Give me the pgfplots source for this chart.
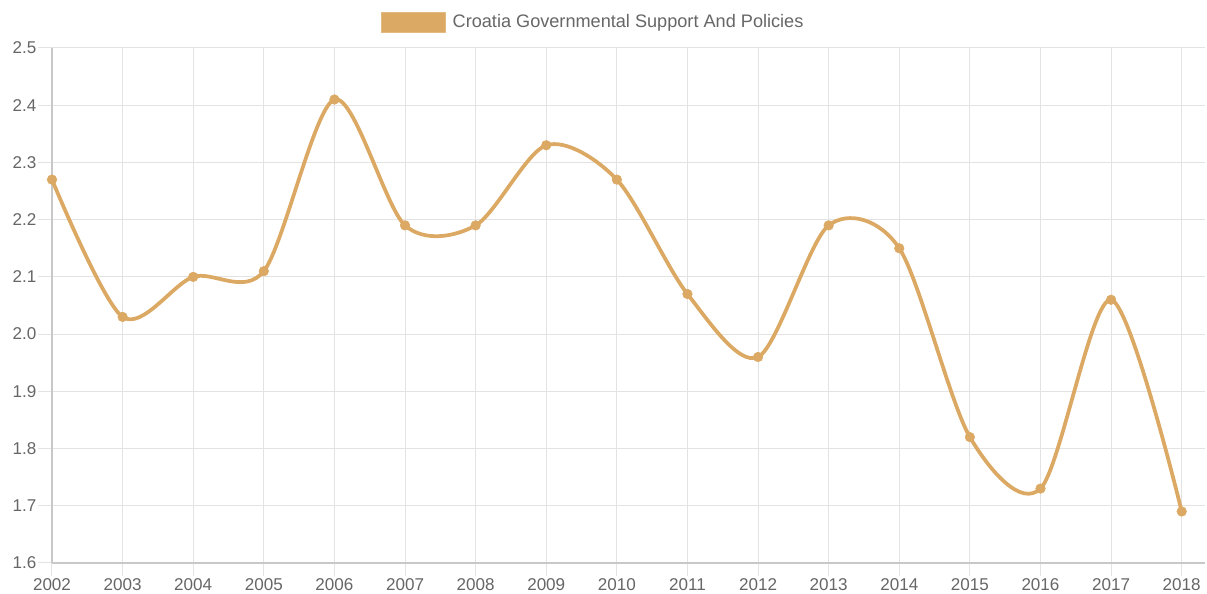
\documentclass[border=0pt]{standalone}
\usepackage{pgfplots}
\pgfplotsset{compat=1.18}
\usepackage{fontspec}
\setmainfont{Liberation Sans}
\definecolor{lc}{HTML}{DBA963}
\definecolor{gridc}{HTML}{E3E3E3}
\definecolor{axc}{HTML}{C8C8C8}
\definecolor{txt}{HTML}{666666}
\begin{document}
\begin{tikzpicture}
\begin{axis}[
  scale only axis,
  width=864.75pt, height=386.25pt,
  xmin=2002, xmax=2018.33,
  ymin=1.6, ymax=2.5,
  xtick={2002,2003,...,2018},
  ytick={1.6,1.7,...,2.5},
  axis x line*=bottom, axis y line*=left,
  axis line style={axc, line width=0.8pt, -},
  grid=major,
  major grid style={gridc, line width=0.75pt},
  tick align=outside,
  xtick style={gridc, line width=0.75pt, /pgfplots/major tick length=10pt},
  ytick style={gridc, line width=0.75pt, /pgfplots/major tick length=10.5pt},
  tick label style={font=\fontsize{12.8}{14}\selectfont, text=txt},
  /pgf/number format/assume math mode=true,
  xticklabel style={/pgf/number format/1000 sep={}, yshift=-4pt},
  yticklabel style={/pgf/number format/fixed, /pgf/number format/precision=1, /pgf/number format/fixed zerofill, xshift=-4pt},
  legend style={at={(0.2853,1.0505)}, anchor=west, draw=none, fill=none,
    font=\fontsize{13.6}{15}\selectfont, text=txt, inner sep=0pt,
    /tikz/every even column/.append style={column sep=0pt}},
  legend image code/.code={\draw[fill=lc, draw=lc!80!white, line width=0.6pt] (0pt,-7.5pt) rectangle (48pt,7.5pt);},
  legend cell align=left,
]
\addplot[lc, line width=2.8pt, smooth, tension=0.5, mark=*, mark size=3.6pt, mark options={fill=lc, draw=lc, line width=0.4pt}]
coordinates {
(2002,2.27) (2003,2.03) (2004,2.10) (2005,2.11) (2006,2.41) (2007,2.19)
(2008,2.19) (2009,2.33) (2010,2.27) (2011,2.07) (2012,1.96) (2013,2.19)
(2014,2.15) (2015,1.82) (2016,1.73) (2017,2.06) (2018,1.69)
};
\addlegendentry{\hspace{3pt}Croatia Governmental Support And Policies}
\end{axis}
\pgfresetboundingbox
\path ([shift={(-39pt,-23.25pt)}]current axis.south west) rectangle ([shift={(1.5pt,36pt)}]current axis.north east);
\end{tikzpicture}
\end{document}
